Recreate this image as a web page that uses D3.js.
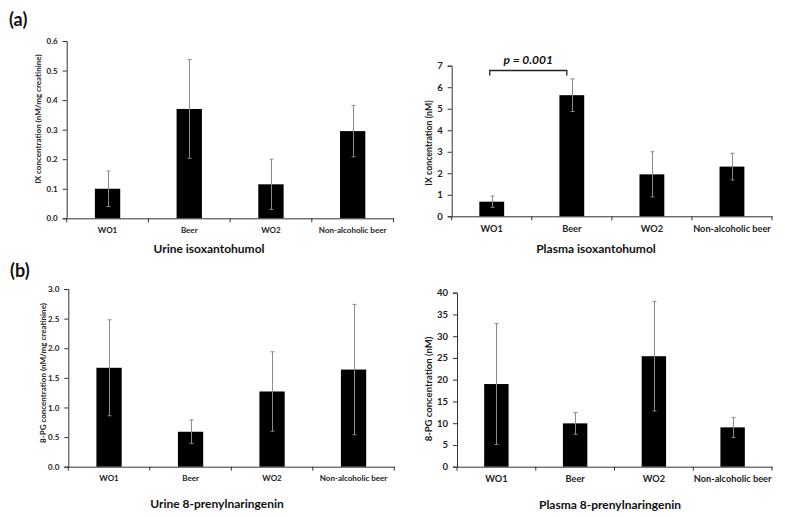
<!DOCTYPE html>
<html><head><meta charset="utf-8">
<script src="https://cdn.jsdelivr.net/npm/d3@7"></script>
<style>body{margin:0;background:#fff;} svg{display:block;font-family:Lato,"Open Sans",sans-serif;font-weight:bold;}</style>
</head><body><svg id="c" width="785" height="517"></svg>
<script>
const categories = ["WO1","Beer","WO2","Non-alcoholic beer"];
const urineIX = [0.10, 0.37, 0.115, 0.295];
const urineIXErr = [0.06, 0.167, 0.085, 0.087];
const plasmaIX = [0.68, 5.63, 1.95, 2.31];
const plasmaIXErr = [0.26, 0.76, 1.05, 0.62];
const urinePG = [1.67, 0.59, 1.27, 1.64];
const urinePGErr = [0.81, 0.20, 0.67, 1.10];
const plasmaPG = [19.0, 9.96, 25.4, 9.04];
const plasmaPGErr = [13.9, 2.5, 12.6, 2.3];
const urineIXTicks = [0,0.1,0.2,0.3,0.4,0.5,0.6];
const plasmaIXTicks = [0,1,2,3,4,5,6,7];
const urinePGTicks = [0,0.5,1.0,1.5,2.0,2.5,3.0];
const plasmaPGTicks = [0,5,10,15,20,25,30,35,40];

const svg = d3.select("#c");

function panel(o){
  const g = svg.append("g");
  const x = d3.scaleBand().domain(categories).range([o.x0,o.x1]).paddingInner(0.69).paddingOuter(0.345);
  const y = d3.scaleLinear().domain([0,o.max]).range([o.y0,o.y1]);
  g.selectAll("rect.bar").data(o.values).join("rect")
    .attr("x",(d,i)=>x(categories[i])).attr("width",x.bandwidth())
    .attr("y",d=>y(d)).attr("height",d=>y(0)-y(d)).attr("fill","#000");
  const eg = g.append("g").attr("stroke","#8a8a8a").attr("stroke-width",1);
  o.values.forEach((v,i)=>{
    const cx = Math.round(x(categories[i])+x.bandwidth()/2)+0.5;
    const hi = y(v+o.err[i]), lo = y(v-o.err[i]);
    eg.append("line").attr("x1",cx).attr("x2",cx).attr("y1",hi).attr("y2",lo);
    eg.append("line").attr("x1",cx-2).attr("x2",cx+2).attr("y1",hi).attr("y2",hi);
    eg.append("line").attr("x1",cx-2).attr("x2",cx+2).attr("y1",lo).attr("y2",lo);
  });
  const ya = d3.axisLeft(y).tickValues(o.ticks).tickFormat(o.fmt).tickSizeOuter(0).tickSize(4).tickPadding(5);
  const yg = g.append("g").attr("transform",`translate(${o.x0},0)`).call(ya);
  yg.selectAll("text").attr("font-size",o.tfs).attr("fill","#222").attr("font-family","Lato").attr("font-weight","bold");
  yg.selectAll("line,path").attr("stroke","#333");
  const xa = d3.axisBottom(x).tickSize(0).tickPadding(9);
  const xg = g.append("g").attr("transform",`translate(0,${o.y0})`).call(xa);
  xg.select("path").attr("stroke","#333");
  xg.selectAll("text").attr("font-size",o.xfs).attr("fill","#222").attr("font-family","Lato").attr("font-weight","bold");
  const bounds = d3.range(categories.length+1).map(i=>o.x0+i*x.step());
  g.append("g").selectAll("line").data(bounds).join("line")
    .attr("x1",d=>d).attr("x2",d=>d).attr("y1",o.y0).attr("y2",o.y0+4).attr("stroke","#333");
  g.append("text").attr("transform",`translate(${o.ylx},${o.yly}) rotate(-90)`)
    .attr("text-anchor","middle").attr("font-size",o.yfs).attr("fill","#222").text(o.ylabel);
  g.append("text").attr("x",o.tx).attr("y",o.ty).attr("text-anchor","middle")
    .attr("font-size",12).attr("fill","#111").text(o.title);
  return {x,y,g};
}

panel({x0:66.7,x1:393.5,y0:218.3,y1:41,max:0.6,values:urineIX,err:urineIXErr,ticks:urineIXTicks,fmt:d3.format(".1f"),
  tfs:8,xfs:8,yfs:8,ylabel:"IX concentration (nM/mg creatinine)",ylx:41,yly:119,title:"Urine isoxantohumol",tx:209,ty:253});
const p2 = panel({x0:451.7,x1:772,y0:216.3,y1:65.7,max:7,values:plasmaIX,err:plasmaIXErr,ticks:plasmaIXTicks,fmt:d3.format("d"),
  tfs:9.5,xfs:9.2,yfs:8.8,ylabel:"IX concentration (nM)",ylx:432,yly:143,title:"Plasma isoxantohumol",tx:596,ty:253});
const p3 = panel({x0:68.3,x1:394.3,y0:466.7,y1:289,max:3,values:urinePG,err:urinePGErr,ticks:urinePGTicks,fmt:d3.format(".1f"),
  tfs:8,xfs:8,yfs:8,ylabel:"8-PG concentration (nM/mg creatinine)",ylx:46,yly:373,title:"Urine 8-prenylnaringenin",tx:217,ty:508});
panel({x0:457,x1:772,y0:466.7,y1:292.7,max:40,values:plasmaPG,err:plasmaPGErr,ticks:plasmaPGTicks,fmt:d3.format("d"),
  tfs:9.5,xfs:9.2,yfs:9.5,ylabel:"8-PG concentration (nM)",ylx:432,yly:389,title:"Plasma 8-prenylnaringenin",tx:610,ty:509});

const bx1 = p2.x("WO1")+p2.x.bandwidth()/2 - 2, bx2 = p2.x("Beer")+p2.x.bandwidth()/2 - 5;
const by = 70.5;
svg.append("path").attr("d",`M${bx1},${by+5}V${by}H${bx2}V${by+5}`).attr("fill","none").attr("stroke","#222").attr("stroke-width",1.3);
svg.append("text").attr("x",(bx1+bx2)/2).attr("y",64).attr("text-anchor","middle").attr("font-size",12)
  .attr("font-style","italic").attr("fill","#111").text("p = 0.001");

svg.append("text").attr("x",9).attr("y",26).attr("font-size",18).attr("fill","#111").text("(a)");
svg.append("text").attr("x",10).attr("y",277).attr("font-size",18).attr("fill","#111").text("(b)");
</script></body></html>
